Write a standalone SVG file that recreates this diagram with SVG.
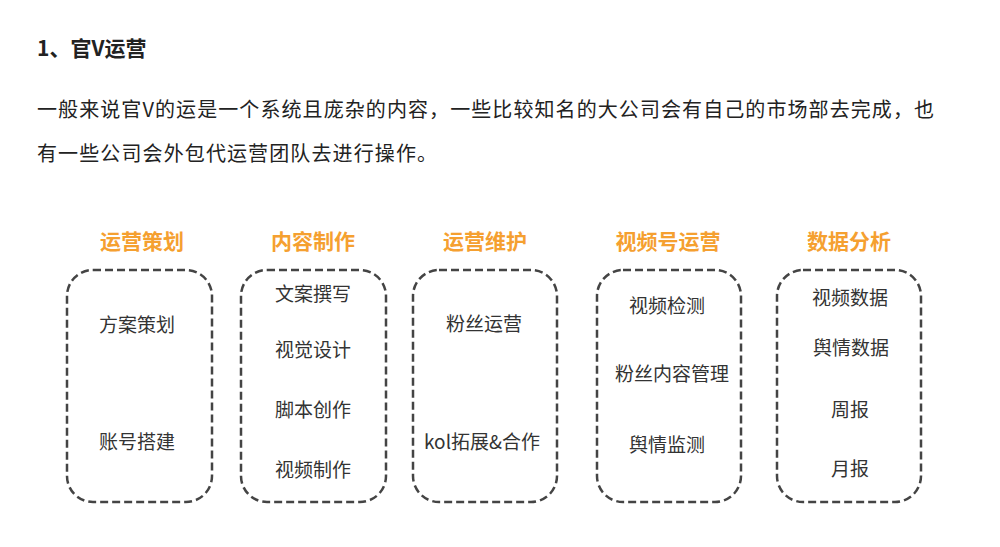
<svg xmlns="http://www.w3.org/2000/svg" width="1000" height="547" viewBox="0 0 1000 547">
<style>
.t{font-family:"Noto Sans CJK SC","Noto Sans",sans-serif;fill:#222;}
.h{font-family:"Noto Sans CJK SC","Noto Sans",sans-serif;fill:#F5A030;font-weight:bold;font-size:21px;text-anchor:middle;dominant-baseline:central;}
.i{font-family:"Noto Sans CJK SC","Noto Sans",sans-serif;fill:#333;font-size:19px;text-anchor:middle;dominant-baseline:central;}
.b{fill:none;stroke:#444;stroke-width:2.5;stroke-dasharray:8 4;}
</style>
<rect width="1000" height="547" fill="#fff"/>
<text class="t" x="37" y="56" font-size="21" font-weight="bold">1、官V运营</text>
<text class="t" x="37" y="117" font-size="20" textLength="897" lengthAdjust="spacing">一般来说官V的运是一个系统且庞杂的内容，一些比较知名的大公司会有自己的市场部去完成，也</text>
<text class="t" x="37" y="161" font-size="20" textLength="400" lengthAdjust="spacing">有一些公司会外包代运营团队去进行操作。</text>

<g id="col1">
<text class="h" x="142" y="240">运营策划</text>
<rect class="b" x="67" y="270" width="145" height="232" rx="26"/>
<text class="i" x="137" y="323">方案策划</text>
<text class="i" x="137" y="440">账号搭建</text>
</g>
<g id="col2">
<text class="h" x="313" y="240">内容制作</text>
<rect class="b" x="241" y="270" width="145" height="232" rx="26"/>
<text class="i" x="313" y="292">文案撰写</text>
<text class="i" x="313" y="348">视觉设计</text>
<text class="i" x="313" y="408">脚本创作</text>
<text class="i" x="313" y="468">视频制作</text>
</g>
<g id="col3">
<text class="h" x="485" y="240">运营维护</text>
<rect class="b" x="413" y="270" width="144" height="232" rx="26"/>
<text class="i" x="484" y="322">粉丝运营</text>
<text class="i" x="482" y="440">kol拓展&amp;合作</text>
</g>
<g id="col4">
<text class="h" x="668" y="240">视频号运营</text>
<rect class="b" x="597" y="270" width="144" height="232" rx="26"/>
<text class="i" x="667" y="304">视频检测</text>
<text class="i" x="672" y="372">粉丝内容管理</text>
<text class="i" x="667" y="443">舆情监测</text>
</g>
<g id="col5">
<text class="h" x="849" y="240">数据分析</text>
<rect class="b" x="777" y="270" width="144" height="232" rx="26"/>
<text class="i" x="850" y="296">视频数据</text>
<text class="i" x="851" y="346">舆情数据</text>
<text class="i" x="850" y="408">周报</text>
<text class="i" x="850" y="467">月报</text>
</g>
<g id="connectors"/>
</svg>
